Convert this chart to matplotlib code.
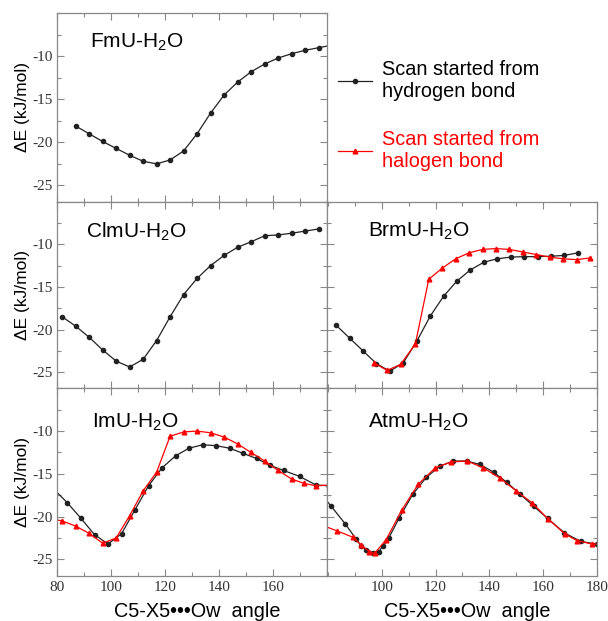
import matplotlib
matplotlib.use('Agg')
import matplotlib.pyplot as plt
from matplotlib.ticker import MultipleLocator, FixedLocator
import numpy as np

plt.rcParams['font.family'] = 'Liberation Sans'
plt.rcParams['mathtext.fontset'] = 'custom'
plt.rcParams['mathtext.rm'] = 'Liberation Sans'
plt.rcParams['axes.unicode_minus'] = False

# FmU - only hydrogen bond scan
fm_x = [87, 92, 97, 102, 107, 112, 117, 122, 127, 132, 137, 142, 147, 152, 157, 162, 167, 172, 177, 182]
fm_h = [-18.1, -19.0, -19.9, -20.7, -21.5, -22.2, -22.5, -22.05, -21.0, -19.0, -16.6, -14.5, -13.0, -11.8,
        -10.9, -10.2, -9.7, -9.3, -9.0, -8.7]

# ClmU
cl_x = [82, 87, 92, 97, 102, 107, 112, 117, 122, 127, 132, 137, 142, 147, 152, 157, 162, 167, 172, 177]
cl_h = [-18.5, -19.6, -20.9, -22.4, -23.7, -24.4, -23.5, -21.3, -18.5, -15.9, -14.0, -12.5, -11.3, -10.35,
        -9.7, -9.0, -8.9, -8.7, -8.45, -8.2]

# BrmU
br_x = [83, 88, 93, 98, 103, 108, 113, 118, 123, 128, 133, 138, 143, 148, 153, 158, 163, 168, 173]
br_h = [-19.5, -21.0, -22.5, -24.0, -24.9, -23.9, -21.4, -18.45, -16.1, -14.3, -13.0, -12.1, -11.7, -11.5,
        -11.45, -11.45, -11.4, -11.3, -11.0]
br_xr = [97, 102, 107, 112.5, 117.5, 122.5, 127.5, 132.5, 137.5, 142.5, 147.5, 152.5, 157.5, 162.5, 167.5, 172.5, 177.5]
br_r = [-23.9, -24.8, -24.1, -21.7, -14.1, -12.8, -11.7, -11.0, -10.6, -10.5, -10.6, -10.9, -11.2, -11.5,
        -11.7, -11.8, -11.6]

# ImU
im_x = [78.5, 84, 89, 94, 99, 104, 109, 114, 119, 124, 129, 134, 139, 144, 149, 154, 159, 164, 170, 176, 181]
im_h = [-16.65, -18.4, -20.2, -22.1, -23.2, -22.0, -19.2, -16.4, -14.3, -12.9, -12.0, -11.6, -11.7, -12.0,
        -12.6, -13.2, -14.0, -14.6, -15.3, -16.3, -16.4]
im_xr = [77, 82, 87, 92, 97, 102, 107, 112, 117, 122, 127, 132, 137, 142, 147, 152, 157, 162, 167, 171.5, 176, 181]
im_r = [-20.2, -20.5, -21.1, -21.95, -23.1, -22.5, -19.9, -17.0, -14.8, -10.6, -10.1, -10.0, -10.2, -10.7,
        -11.5, -12.5, -13.5, -14.6, -15.6, -16.1, -16.4, -16.3]

# AtmU
at_x = [77, 81.2, 86.3, 90.4, 92.3, 94.3, 96.6, 98.8, 100.6, 102.6, 106.4, 111.5, 116.6, 121.6, 126.6, 131.6,
        136.6, 141.6, 146.6, 151.6, 156.6, 161.7, 168.0, 174.1, 180.0]
at_h = [-17.2, -18.8, -20.8, -22.6, -23.4, -23.9, -24.2, -24.1, -23.4, -22.5, -20.2, -17.4, -15.4, -14.1,
        -13.5, -13.5, -13.9, -14.8, -16.0, -17.4, -18.8, -20.2, -21.9, -22.9, -23.2]
at_xr = [77, 83.2, 89.2, 92.3, 95.4, 97.3, 101.6, 107.5, 113.6, 119.9, 125.8, 131.8, 137.8, 144.0, 150.1,
         156.0, 162.0, 168.1, 172.6, 178.2, 182]
at_r = [-20.9, -21.65, -22.4, -23.3, -24.1, -24.3, -22.7, -19.2, -16.2, -14.3, -13.6, -13.5, -14.3, -15.5,
        -17.0, -18.4, -20.3, -22.0, -22.8, -23.2, -23.2]

names = ['FmU-H$_\\mathregular{2}$O', 'ClmU-H$_\\mathregular{2}$O', 'BrmU-H$_\\mathregular{2}$O',
         'ImU-H$_\\mathregular{2}$O', 'AtmU-H$_\\mathregular{2}$O']

fig = plt.figure(figsize=(6.08, 6.21), dpi=100)
W, H = 608, 621
x_left, x_right, w = 56.7, 326.7, 270
rows = [(13.3, 201.7), (201.7, 388.3), (388.3, 575.7)]

def make_ax(col, row):
    x0 = x_left if col == 0 else x_right
    t, b = rows[row]
    ax = fig.add_axes([x0 / W, 1 - b / H, w / W, (b - t) / H])
    ax.set_ylim(-26.9, -5)
    if col == 0:
        ax.set_xlim(80, 180)
        ax.xaxis.set_major_locator(FixedLocator([80, 100, 120, 140, 160]))
    else:
        ax.set_xlim(79.5, 180)
        ax.xaxis.set_major_locator(FixedLocator([100, 120, 140, 160, 180]))
    ax.xaxis.set_minor_locator(MultipleLocator(10))
    ax.yaxis.set_major_locator(FixedLocator([-10, -15, -20, -25]))
    ax.yaxis.set_minor_locator(MultipleLocator(2.5))
    ax.tick_params(which='both', direction='in', top=True, right=True, color='#888888', width=0.8)
    ax.tick_params(which='major', length=5)
    ax.tick_params(which='minor', length=3)
    ax.tick_params(axis='y', pad=3)
    for s in ax.spines.values():
        s.set_color('#888888')
        s.set_linewidth(0.9)
    for lab in ax.get_xticklabels() + ax.get_yticklabels():
        lab.set_fontfamily('Liberation Serif')
        lab.set_fontsize(11)
        lab.set_color('#333333')
    if col == 1:
        ax.set_yticklabels([])
    else:
        ax.set_ylabel('ΔE (kJ/mol)', fontsize=12.5)
        ax.yaxis.set_label_coords(-0.1, 0.5)
    if row < 2:
        ax.set_xticklabels([])
    else:
        ax.set_xlabel('C5-X5•••Ow  angle', fontsize=14.3)
        ax.xaxis.set_label_coords(0.522, -0.14)
    return ax

def black(ax, x, y):
    return ax.plot(x, y, color='#222222', lw=0.9, marker='o', markersize=3.0)[0]

def red(ax, x, y):
    return ax.plot(x, y, color='red', lw=0.9, marker='^', markersize=3.4)[0]

ax1 = make_ax(0, 0)
black(ax1, fm_x, fm_h)
ax1.text(0.123, 0.846, names[0], transform=ax1.transAxes, fontsize=15, va='center')

ax2 = make_ax(0, 1)
black(ax2, cl_x, cl_h)
ax2.text(0.108, 0.839, names[1], transform=ax2.transAxes, fontsize=15, va='center')

ax3 = make_ax(1, 1)
hb = black(ax3, br_x, br_h)
xb = red(ax3, br_xr, br_r)
ax3.text(0.154, 0.84, names[2], transform=ax3.transAxes, fontsize=15, va='center')

ax4 = make_ax(0, 2)
black(ax4, im_x, im_h)
red(ax4, im_xr, im_r)
ax4.text(0.13, 0.819, names[3], transform=ax4.transAxes, fontsize=15, va='center')

ax5 = make_ax(1, 2)
black(ax5, at_x, at_h)
red(ax5, at_xr, at_r)
ax5.text(0.154, 0.819, names[4], transform=ax5.transAxes, fontsize=15, va='center')

leg = fig.legend([hb, xb], ['Scan started from\nhydrogen bond', 'Scan started from\nhalogen bond'],
                 loc='upper left', bbox_to_anchor=(338 / W, 1 - 60 / H), frameon=False, fontsize=14.3,
                 borderpad=0, borderaxespad=0, handlelength=1.7, handletextpad=0.5, labelspacing=1.45,
                 numpoints=1)
leg.get_texts()[1].set_color('red')

fig.savefig('out.png', dpi=100)
